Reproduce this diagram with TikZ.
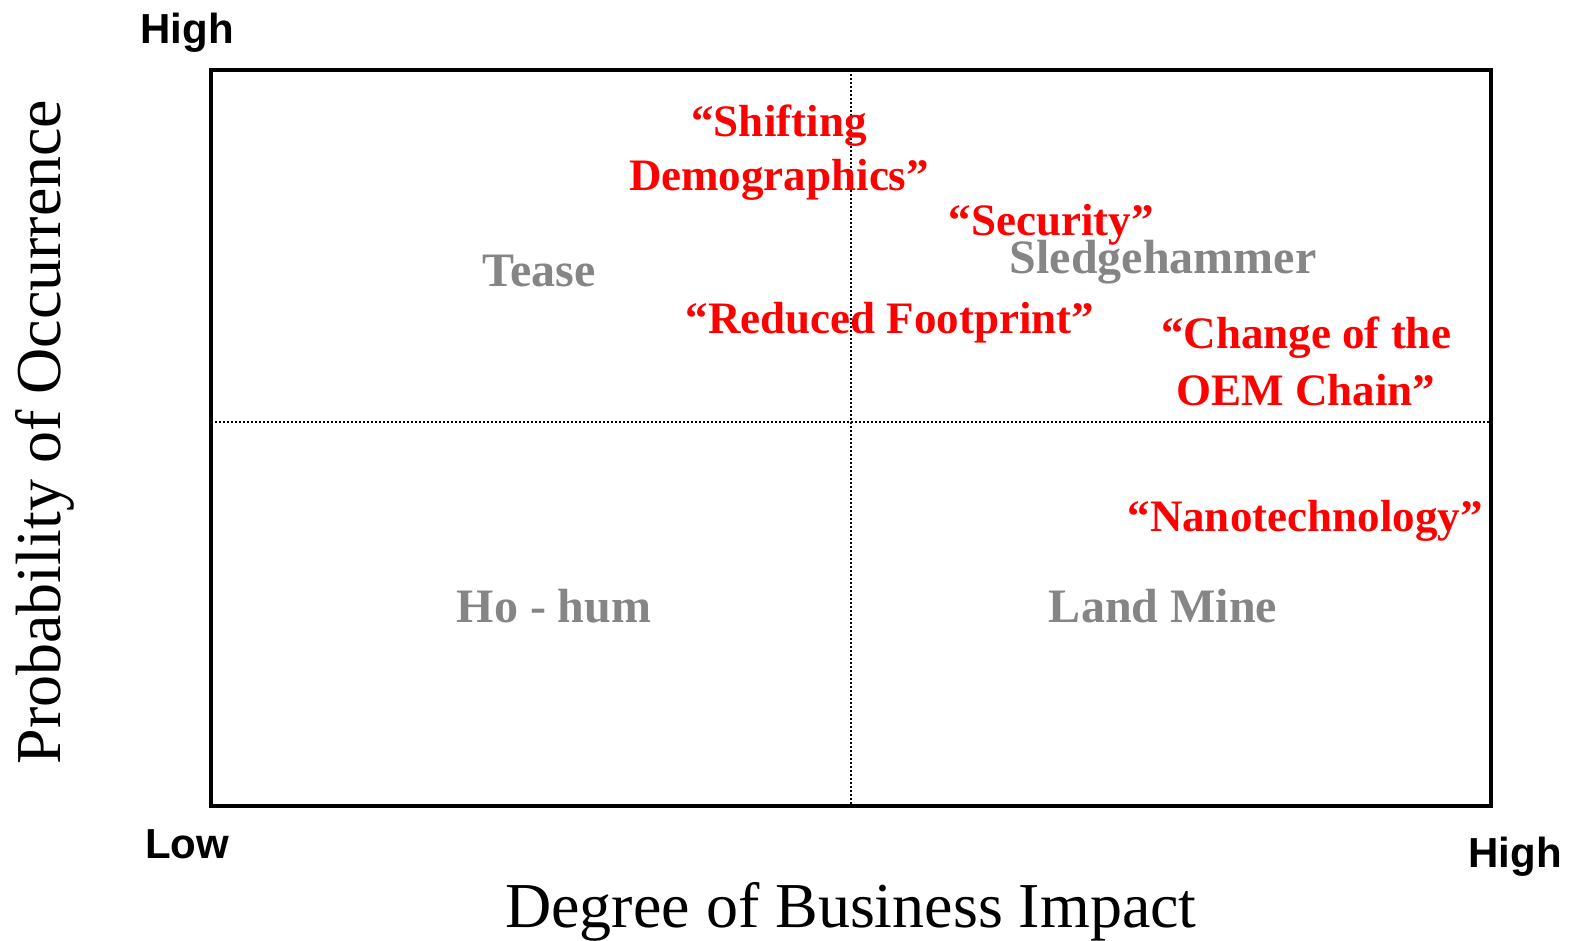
\documentclass[tikz,border=0pt]{standalone}
\usepackage{fontspec}
\setmainfont{Liberation Serif}
\newfontfamily\axisfont{Liberation Sans}
\begin{document}
\begin{tikzpicture}[x=1pt,y=-1pt,
  endlabel/.style={inner sep=0pt,anchor=base,font=\axisfont\bfseries\fontsize{42}{48}\selectfont},
  axtitle/.style={inner sep=0pt,anchor=base,font=\fontsize{64}{72}\selectfont},
  quad/.style={inner sep=0pt,anchor=base,text=black!48,font=\bfseries\fontsize{48}{56}\selectfont},
  trend/.style={inner sep=0pt,anchor=base,text=red,align=center,font=\bfseries\fontsize{45}{57}\selectfont},
  frame/.style={draw=black,line width=4pt},
  divider/.style={draw=black,line width=1.5pt,dash pattern=on 1.5pt off 2.5pt}]
\useasboundingbox (0,0) rectangle (1577,940);
\coordinate (tl) at (211,70);
\coordinate (br) at (1491,806);
\coordinate (vt) at (851,70);
\coordinate (vb) at (851,806);
\coordinate (hl) at (211,422);
\coordinate (hr) at (1491,422);
\draw[divider] (vt) -- (vb);
\draw[divider] (hl) -- (hr);
\draw[frame] (tl) rectangle (br);
\node[endlabel] (yhigh) at (187,43) {High};
\node[endlabel] (xlow) at (187,858) {Low};
\node[endlabel] (xhigh) at (1515,867) {High};
\node[axtitle] (xtitle) at (851,927) {Degree of Business Impact};
\node[axtitle,rotate=90] (ytitle) at (60,432) {Probability of Occurrence};
\node[quad] (tease) at (539,286) {Tease};
\node[quad] (sledge) at (1163,273) {Sledgehammer};
\node[quad] (hohum) at (554,622) {Ho - hum};
\node[quad] (landmine) at (1163,622) {Land Mine};
\node[trend] (shift) at (779,190) {“Shifting\\[-3pt]Demographics”};
\node[trend] (security) at (1051,235) {“Security”};
\node[trend] (reduced) at (890,333) {“Reduced Footprint”};
\node[trend] (oem) at (1306,405) {“Change of the\\OEM Chain”};
\node[trend] (nano) at (1305,531) {“Nanotechnology”};
\end{tikzpicture}
\end{document}
